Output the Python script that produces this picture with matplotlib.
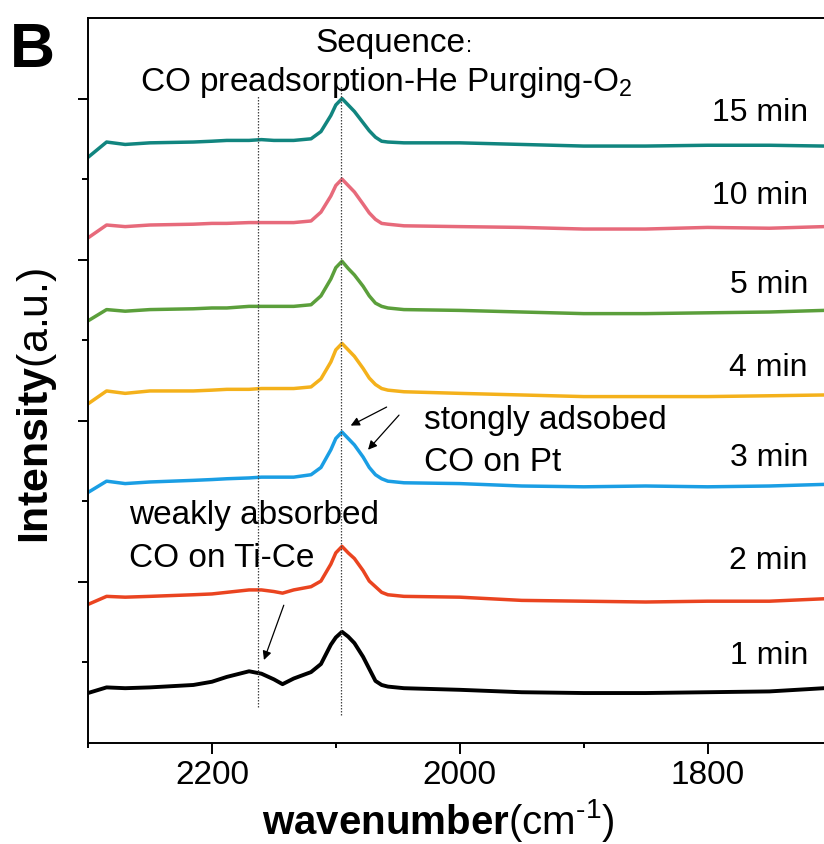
import matplotlib
matplotlib.use('Agg')
import matplotlib.pyplot as plt
from matplotlib.ticker import FixedLocator, NullFormatter

plt.rcParams['font.family'] = ['Liberation Sans', 'DejaVu Sans']
plt.rcParams['mathtext.fontset'] = 'custom'
plt.rcParams['mathtext.rm'] = 'Liberation Sans'
plt.rcParams['mathtext.it'] = 'Liberation Sans:italic'
plt.rcParams['mathtext.bf'] = 'Liberation Sans:bold'

# wavenumber grid (cm-1) shared by all spectra
wavenumber = [2300, 2285, 2270, 2250, 2215, 2200, 2188, 2170, 2160, 2150,
              2143, 2134, 2120, 2112, 2104, 2100, 2095, 2090, 2085, 2078,
              2073, 2068, 2063, 2058, 2045, 2000, 1950, 1900, 1850, 1800,
              1750, 1706]

# stacked intensities (a.u.), one list per O2 exposure time
i_1min = [0.62, 0.69, 0.68, 0.69, 0.72, 0.76, 0.82, 0.89, 0.86, 0.79,
          0.73, 0.80, 0.88, 0.98, 1.22, 1.31, 1.38, 1.32, 1.24, 1.07,
          0.92, 0.77, 0.72, 0.70, 0.68, 0.66, 0.63, 0.62, 0.62, 0.63,
          0.64, 0.68]
i_2min = [1.72, 1.82, 1.81, 1.82, 1.84, 1.85, 1.87, 1.90, 1.90, 1.88,
          1.86, 1.90, 1.94, 2.01, 2.22, 2.36, 2.44, 2.36, 2.29, 2.14,
          2.01, 1.94, 1.87, 1.84, 1.82, 1.81, 1.77, 1.76, 1.75, 1.76,
          1.76, 1.79]
i_3min = [3.11, 3.25, 3.22, 3.24, 3.26, 3.27, 3.28, 3.29, 3.30, 3.30,
          3.30, 3.30, 3.33, 3.42, 3.64, 3.78, 3.86, 3.78, 3.70, 3.55,
          3.42, 3.33, 3.28, 3.25, 3.23, 3.22, 3.19, 3.18, 3.19, 3.18,
          3.19, 3.21]
i_4min = [4.21, 4.37, 4.34, 4.37, 4.37, 4.38, 4.39, 4.39, 4.40, 4.40,
          4.40, 4.40, 4.42, 4.52, 4.73, 4.88, 4.96, 4.88, 4.80, 4.65,
          4.53, 4.45, 4.40, 4.38, 4.36, 4.34, 4.32, 4.30, 4.30, 4.30,
          4.31, 4.32]
i_5min = [5.24, 5.38, 5.36, 5.38, 5.39, 5.40, 5.40, 5.42, 5.42, 5.42,
          5.42, 5.42, 5.44, 5.55, 5.76, 5.90, 5.98, 5.89, 5.81, 5.67,
          5.55, 5.46, 5.42, 5.40, 5.38, 5.37, 5.35, 5.33, 5.33, 5.34,
          5.35, 5.37]
i_10min = [6.27, 6.43, 6.41, 6.43, 6.44, 6.45, 6.45, 6.46, 6.46, 6.46,
           6.46, 6.46, 6.48, 6.59, 6.79, 6.92, 7.00, 6.92, 6.84, 6.69,
           6.58, 6.50, 6.45, 6.44, 6.42, 6.41, 6.40, 6.38, 6.38, 6.40,
           6.39, 6.41]
i_15min = [7.27, 7.46, 7.43, 7.45, 7.46, 7.47, 7.48, 7.48, 7.49, 7.48,
           7.48, 7.48, 7.50, 7.59, 7.79, 7.92, 8.00, 7.92, 7.84, 7.70,
           7.60, 7.52, 7.47, 7.46, 7.45, 7.45, 7.43, 7.41, 7.41, 7.42,
           7.42, 7.41]

labels = ['1 min', '2 min', '3 min', '4 min', '5 min', '10 min', '15 min']
spectra = [i_1min, i_2min, i_3min, i_4min, i_5min, i_10min, i_15min]
colors = ['#000000', '#ea4420', '#1a9ee4', '#f4b11b', '#5b9f3b', '#e76a7b', '#11857f']
label_y = [0.98, 2.16, 3.44, 4.56, 5.58, 6.69, 7.72]

fig = plt.figure(figsize=(8.24, 8.44), dpi=100)
ax = fig.add_axes([0.1068, 0.1197, 0.8932, 0.859])

for y, c, lab, ly in zip(spectra, colors, labels, label_y):
    lw = 2.8 if c == '#000000' else 2.5
    ax.plot(wavenumber, y, color=c, lw=lw, solid_joinstyle='round')
    ax.text(1719, ly, lab, fontsize=23, ha='right', va='baseline')

# peak position guides
ax.plot([2163, 2163], [0.45, 8.04], color='#444444', lw=0.9, ls=(0, (1.2, 1.2)))
ax.plot([2096, 2096], [0.35, 8.16], color='#444444', lw=0.9, ls=(0, (1.2, 1.2)))

arrow = dict(arrowstyle='-|>', color='black', lw=0.9, mutation_scale=13,
             shrinkA=0, shrinkB=0)
ax.annotate('', xy=(2158, 1.03), xytext=(2142, 1.71), arrowprops=arrow)
ax.annotate('', xy=(2088, 3.94), xytext=(2059, 4.17), arrowprops=arrow)
ax.annotate('', xy=(2074, 3.64), xytext=(2049, 4.07), arrowprops=arrow)

ax.text(2116.6, 8.58, 'Sequence', fontsize=24, ha='left', va='baseline')
ax.text(1995, 8.58, ':', fontsize=16, ha='left', va='baseline')
ax.text(2258, 8.09, 'CO preadsorption-He Purging-O$_2$', fontsize=24,
        ha='left', va='baseline')
ax.text(2029, 3.90, 'stongly adsobed', fontsize=24, ha='left', va='baseline')
ax.text(2029, 3.38, 'CO on Pt', fontsize=24, ha='left', va='baseline')
ax.text(2267, 2.72, 'weakly absorbed', fontsize=24, ha='left', va='baseline')
ax.text(2267, 2.19, 'CO on Ti-Ce', fontsize=24, ha='left', va='baseline')

ax.set_xlim(2300, 1706)
ax.set_ylim(0, 9)

ax.xaxis.set_major_locator(FixedLocator([2200, 2000, 1800]))
ax.xaxis.set_minor_locator(FixedLocator([2300, 2100, 1900]))
ax.yaxis.set_major_locator(FixedLocator([2, 4, 6, 8]))
ax.yaxis.set_minor_locator(FixedLocator([1, 3, 5, 7]))
ax.yaxis.set_major_formatter(NullFormatter())

ax.tick_params(axis='x', which='major', direction='out', length=8, width=1.4,
               labelsize=24, pad=4)
ax.tick_params(axis='x', which='minor', direction='out', length=3.6, width=1.4)
ax.tick_params(axis='y', which='major', direction='out', length=7, width=1.4)
ax.tick_params(axis='y', which='minor', direction='out', length=4.3, width=1.4)

for side in ['left', 'bottom', 'top']:
    ax.spines[side].set_linewidth(1.4)
ax.spines['right'].set_visible(False)

fig.text(0.318, 0.0115, r'$\mathbf{wavenumber}$(cm$^{\text{-}1}$)', fontsize=29,
         ha='left', va='baseline')
fig.text(0.045, 0.519, r'$\mathbf{Intensity}$(a.u.)', fontsize=31,
         rotation=90, ha='center', va='center')
fig.text(0.012, 0.9206, 'B', fontsize=45, fontweight='bold', ha='left',
         va='baseline')

fig.savefig('out.png', dpi=100)
